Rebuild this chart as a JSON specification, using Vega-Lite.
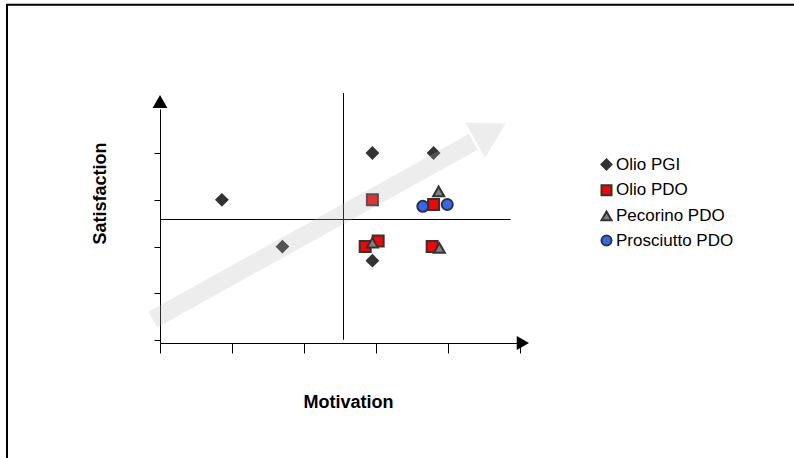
{
  "$schema": "https://vega.github.io/schema/vega-lite/v6.json",
  "width": 360,
  "height": 234,
  "autosize": {"type": "none"},
  "padding": {"left": 160, "top": 109, "right": 274, "bottom": 115},
  "background": "white",
  "config": {"view": {"stroke": null}, "font": "Liberation Sans"},
  "datasets": {
    "quad": [
      {"x": 0, "x2": 4.87, "y": 2.579, "y2": 2.579},
      {"x": 2.5486, "x2": 2.5486, "y": 0.01, "y2": 5.28}
    ],
    "points": [
      {"series": "Olio PGI", "x": 0.86, "y": 3.0},
      {"series": "Olio PGI", "x": 1.7, "y": 2.0},
      {"series": "Olio PGI", "x": 2.95, "y": 4.0},
      {"series": "Olio PGI", "x": 3.8, "y": 4.0},
      {"series": "Olio PGI", "x": 2.95, "y": 1.7},
      {"series": "Olio PDO", "x": 2.95, "y": 3.0},
      {"series": "Olio PDO", "x": 3.8, "y": 2.9},
      {"series": "Olio PDO", "x": 2.85, "y": 2.0},
      {"series": "Olio PDO", "x": 3.03, "y": 2.12},
      {"series": "Olio PDO", "x": 3.78, "y": 2.0},
      {"series": "Pecorino PDO", "x": 3.87, "y": 3.18},
      {"series": "Pecorino PDO", "x": 2.95, "y": 2.08},
      {"series": "Pecorino PDO", "x": 3.88, "y": 1.97},
      {"series": "Prosciutto PDO", "x": 3.65, "y": 2.86},
      {"series": "Prosciutto PDO", "x": 3.99, "y": 2.9}
    ],
    "trend": [{"x": -0.1, "y": 0.44, "x2": 4.35, "y2": 4.24}],
    "trendhead": [{"x": 4.59, "y": 4.45}],
    "yhead": [{"x": 0, "y": 5.1}],
    "xhead": [{"x": 5.04, "y": -0.06}],
    "frame": [{"x": -2.125, "x2": 9, "y": 7.17, "y2": -3}]
  },
  "layer": [
    {
      "data": {"name": "quad"},
      "mark": {"type": "rule", "color": "black", "strokeWidth": 1},
      "encoding": {
        "x": {
          "field": "x", "type": "quantitative",
          "scale": {"domain": [0, 5], "nice": false, "zero": false},
          "axis": {
            "values": [0, 1, 2, 3, 4, 5], "labels": false, "grid": false,
            "tickSize": 10, "tickColor": "black", "domainColor": "black",
            "tickWidth": 1, "domainWidth": 1,
            "title": "Motivation", "titleFont": "Liberation Sans", "titleFontSize": 18,
            "titleFontWeight": "bold", "titleColor": "black",
            "titleX": 188, "titleY": 64, "titleBaseline": "alphabetic", "titleAlign": "center"
          }
        },
        "x2": {"field": "x2"},
        "y": {
          "field": "y", "type": "quantitative",
          "scale": {"domain": [-0.06, 4.94], "nice": false, "zero": false},
          "axis": {
            "values": [0, 1, 2, 3, 4], "labels": false, "grid": false,
            "tickSize": 6, "tickColor": "black", "domainColor": "black",
            "tickWidth": 1, "domainWidth": 1,
            "title": "Satisfaction", "titleFont": "Liberation Sans", "titleFontSize": 18,
            "titleFontWeight": "bold", "titleColor": "black", "titleAngle": 270,
            "titleX": -55, "titleY": 84, "titleBaseline": "alphabetic", "titleAlign": "center"
          }
        },
        "y2": {"field": "y2"}
      }
    },
    {
      "data": {"name": "points"},
      "mark": {"type": "point", "filled": true, "stroke": "#333333", "strokeWidth": 2, "size": 121, "opacity": 1},
      "encoding": {
        "x": {"field": "x", "type": "quantitative", "title": "Motivation"},
        "y": {"field": "y", "type": "quantitative", "title": "Satisfaction"},
        "fill": {
          "field": "series", "type": "nominal",
          "scale": {"domain": ["Olio PGI", "Olio PDO", "Pecorino PDO", "Prosciutto PDO"], "range": ["#333333", "#ff0000", "#808080", "#3366ff"]},
          "legend": {
            "title": null, "orient": "none", "legendX": 438, "legendY": 47,
            "labelFont": "Liberation Sans", "labelFontSize": 17, "labelColor": "black",
            "symbolSize": 100, "symbolStrokeWidth": 2, "symbolStrokeColor": "#333333",
            "symbolOpacity": 1, "rowPadding": 6.7, "labelOffset": 1, "padding": 0,
            "encode": {"symbols": {"update": {"stroke": {"value": "#333333"}, "strokeWidth": {"value": 2}}}}
          }
        },
        "shape": {
          "field": "series", "type": "nominal",
          "scale": {"domain": ["Olio PGI", "Olio PDO", "Pecorino PDO", "Prosciutto PDO"], "range": ["diamond", "square", "triangle-up", "circle"]},
          "legend": {
            "title": null, "orient": "none", "legendX": 438, "legendY": 47,
            "labelFont": "Liberation Sans", "labelFontSize": 17, "labelColor": "black",
            "symbolSize": 100, "symbolStrokeWidth": 2, "symbolStrokeColor": "#333333",
            "symbolOpacity": 1, "rowPadding": 6.7, "labelOffset": 1, "padding": 0,
            "encode": {"symbols": {"update": {"stroke": {"value": "#333333"}, "strokeWidth": {"value": 2}}}}
          }
        }
      }
    },
    {
      "data": {"name": "trend"},
      "mark": {"type": "rule", "color": "#b8b8b8", "strokeWidth": 18, "opacity": 0.25, "strokeCap": "butt"},
      "encoding": {
        "x": {"field": "x", "type": "quantitative", "title": "Motivation"},
        "y": {"field": "y", "type": "quantitative", "title": "Satisfaction"},
        "x2": {"field": "x2"},
        "y2": {"field": "y2"}
      }
    },
    {
      "data": {"name": "trendhead"},
      "mark": {"type": "point", "shape": "triangle-up", "filled": true, "color": "#b8b8b8", "opacity": 0.25, "size": 1600, "angle": 61, "strokeWidth": 0},
      "encoding": {
        "x": {"field": "x", "type": "quantitative", "title": "Motivation"},
        "y": {"field": "y", "type": "quantitative", "title": "Satisfaction"}
      }
    },
    {
      "data": {"name": "yhead"},
      "mark": {"type": "point", "shape": "triangle-up", "filled": true, "color": "black", "opacity": 1, "size": 220},
      "encoding": {
        "x": {"field": "x", "type": "quantitative", "title": "Motivation"},
        "y": {"field": "y", "type": "quantitative", "title": "Satisfaction"}
      }
    },
    {
      "data": {"name": "xhead"},
      "mark": {"type": "point", "shape": "triangle-right", "filled": true, "color": "black", "opacity": 1, "size": 200},
      "encoding": {
        "x": {"field": "x", "type": "quantitative", "title": "Motivation"},
        "y": {"field": "y", "type": "quantitative", "title": "Satisfaction"}
      }
    },
    {
      "data": {"name": "frame"},
      "mark": {"type": "rect", "filled": false, "fill": null, "stroke": "black", "strokeWidth": 2},
      "encoding": {
        "x": {"field": "x", "type": "quantitative", "title": "Motivation"},
        "x2": {"field": "x2"},
        "y": {"field": "y", "type": "quantitative", "title": "Satisfaction"},
        "y2": {"field": "y2"}
      }
    }
  ]
}
